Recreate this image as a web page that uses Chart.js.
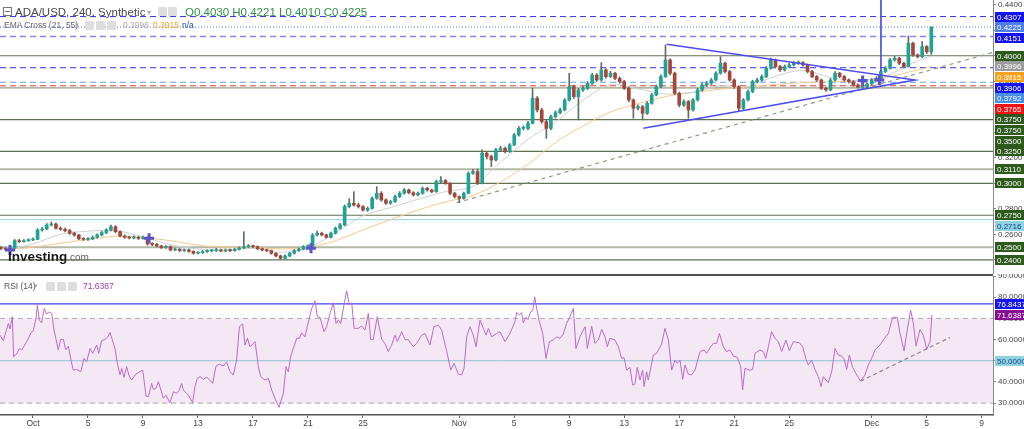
<!DOCTYPE html>
<html>
<head>
<meta charset="utf-8">
<script src="https://cdn.jsdelivr.net/npm/chart.js@4.4.1/dist/chart.umd.min.js"></script>
<style>
  body { margin: 0; background: #fff; width: 1024px; height: 429px; overflow: hidden; position: relative; font-family: "Liberation Sans", Arial, sans-serif; }
  canvas { position: absolute; left: 0; }
  #main { top: 0; }
  #rsi { top: 274px; }
  .sep { position: absolute; left: 0; top: 274px; width: 993px; height: 2px; background: #505050; }
  .t { position: absolute; white-space: nowrap; }
  .ic { position: absolute; width: 9px; height: 9px; background: #dedede; border-radius: 1px; }
  .minus { position: absolute; left: 3px; top: 7px; width: 7px; height: 7px; border: 1px solid #777; }
  .minus:after { content: ""; position: absolute; left: 1px; top: 3px; width: 5px; height: 1px; background: #777; }
</style>
</head>
<body>
<canvas id="main" width="1024" height="274"></canvas>
<canvas id="rsi" width="1024" height="155"></canvas>
<div class="sep"></div>

<span class="minus"></span>
<span class="t" style="left:15px;top:5px;font-size:11.5px;line-height:14px;color:#4a4a4a">ADA/USD, 240, Synthetic</span>
<span class="t" style="left:147px;top:6px;font-size:8px;line-height:14px;color:#aaa">&#9662;</span>
<span class="ic" style="left:158px;top:7px"></span>
<span class="ic" style="left:168px;top:7px"></span>
<span class="t" style="left:185px;top:5px;font-size:11.5px;line-height:14px;color:#2f8f46">O0.4030 H0.4221 L0.4010 C0.4225</span>

<span class="t" style="left:4px;top:19px;font-size:8.5px;line-height:12px;color:#666">EMA Cross (21, 55)</span>
<span class="t" style="left:75px;top:19px;font-size:7px;line-height:12px;color:#aaa">&#9662;</span>
<span class="ic" style="left:85px;top:21px"></span>
<span class="ic" style="left:96px;top:21px"></span>
<span class="ic" style="left:107px;top:21px"></span>
<span class="t" style="left:123px;top:19px;font-size:8.5px;line-height:12px;color:#a8a8a8">0.3996</span>
<span class="t" style="left:153px;top:19px;font-size:8.5px;line-height:12px;color:#f5a623">0.3915</span>
<span class="t" style="left:182px;top:19px;font-size:8.5px;line-height:12px;color:#2a4fb5">n/a</span>

<span class="t" style="left:8px;top:249px;font-size:13.5px;line-height:16px;font-weight:bold;color:#1a1a1a">Investing<span style="font-size:10px;font-weight:normal;color:#666">.com</span></span>

<span class="t" style="left:4px;top:280px;font-size:8.5px;line-height:12px;color:#555">RSI (14)</span>
<span class="t" style="left:34px;top:280px;font-size:7px;line-height:12px;color:#aaa">&#9662;</span>
<span class="ic" style="left:46px;top:282px"></span>
<span class="ic" style="left:57px;top:282px"></span>
<span class="ic" style="left:68px;top:282px"></span>
<span class="t" style="left:83px;top:280px;font-size:8.5px;line-height:12px;color:#a03cb0">71.6387</span>

<script>
// time axis: days since 1 Oct, candles every 8 hours
const X_MIN = -2.4;
const X_MAX = 69.82;
const candleStart = -2.3333;
const candleStep = 1 / 3;
const firstOpen = 0.2495;

const closes = [
  0.2490,0.2483,0.2491,0.2551,0.2543,0.2551,0.2556,0.2561,0.2634,0.2642,
  0.2674,0.2681,0.2648,0.2640,0.2630,0.2609,0.2595,0.2566,0.2561,0.2564,
  0.2577,0.2595,0.2614,0.2634,0.2660,0.2621,0.2587,0.2577,0.2572,0.2577,
  0.2569,0.2574,0.2525,0.2522,0.2509,0.2496,0.2504,0.2478,0.2483,0.2473,
  0.2478,0.2467,0.2452,0.2457,0.2465,0.2470,0.2473,0.2478,0.2470,0.2478,
  0.2473,0.2483,0.2494,0.2504,0.2509,0.2504,0.2488,0.2478,0.2473,0.2452,
  0.2431,0.2413,0.2431,0.2452,0.2473,0.2483,0.2504,0.2509,0.2595,0.2609,
  0.2596,0.2577,0.2609,0.2648,0.2674,0.2818,0.2844,0.2831,0.2818,0.2791,
  0.2804,0.2883,0.2922,0.2870,0.2844,0.2857,0.2896,0.2922,0.2948,0.2927,
  0.2909,0.2922,0.2961,0.2948,0.2935,0.3014,0.3022,0.3001,0.2922,0.2896,
  0.2883,0.2922,0.3079,0.3092,0.3001,0.3236,0.3210,0.3183,0.3262,0.3275,
  0.3249,0.3301,0.3379,0.3431,0.3431,0.3471,0.3667,0.3575,0.3484,0.3431,
  0.3523,0.3554,0.3575,0.3653,0.3758,0.3680,0.3732,0.3745,0.3784,0.3849,
  0.3810,0.3889,0.3836,0.3862,0.3823,0.3797,0.3745,0.3654,0.3588,0.3601,
  0.3549,0.3628,0.3693,0.3758,0.3837,0.3967,0.3863,0.3706,0.3614,0.3641,
  0.3575,0.3654,0.3732,0.3771,0.3784,0.3810,0.3863,0.3941,0.3876,0.3810,
  0.3758,0.3588,0.3654,0.3719,0.3797,0.3810,0.3837,0.3902,0.3967,0.3915,
  0.3889,0.3915,0.3928,0.3941,0.3946,0.3928,0.3876,0.3837,0.3810,0.3745,
  0.3732,0.3810,0.3863,0.3837,0.3810,0.3797,0.3771,0.3753,0.3758,0.3779,
  0.3810,0.3823,0.3876,0.3902,0.3967,0.3980,0.3941,0.3915,0.4098,0.4006,
  0.3993,0.4072,0.4030,0.4225
];
const highs = [
  0.2505,0.2498,0.2500,0.2560,0.2562,0.2560,0.2565,0.2572,0.2645,0.2655,
  0.2685,0.2698,0.2690,0.2660,0.2650,0.2640,0.2618,0.2600,0.2575,0.2575,
  0.2588,0.2605,0.2625,0.2645,0.2672,0.2668,0.2628,0.2595,0.2586,0.2588,
  0.2585,0.2586,0.2580,0.2535,0.2530,0.2515,0.2512,0.2510,0.2492,0.2490,
  0.2486,0.2485,0.2472,0.2465,0.2474,0.2478,0.2482,0.2490,0.2485,0.2486,
  0.2484,0.2492,0.2502,0.2621,0.2520,0.2516,0.2510,0.2494,0.2485,0.2478,
  0.2458,0.2438,0.2440,0.2460,0.2482,0.2492,0.2512,0.2518,0.2606,0.2625,
  0.2618,0.2602,0.2618,0.2658,0.2686,0.2830,0.2880,0.2935,0.2845,0.2825,
  0.2815,0.2895,0.2974,0.2935,0.2878,0.2868,0.2908,0.2935,0.2960,0.2955,
  0.2935,0.2932,0.2972,0.2968,0.2955,0.3025,0.3053,0.3030,0.3006,0.2930,
  0.2902,0.2932,0.3090,0.3110,0.3112,0.3262,0.3245,0.3222,0.3275,0.3290,
  0.3285,0.3312,0.3392,0.3445,0.3450,0.3485,0.3745,0.3680,0.3588,0.3495,
  0.3535,0.3568,0.3590,0.3665,0.3863,0.3770,0.3745,0.3760,0.3798,0.3862,
  0.3860,0.3946,0.3900,0.3878,0.3870,0.3835,0.3808,0.3755,0.3662,0.3615,
  0.3610,0.3640,0.3705,0.3770,0.3850,0.4085,0.3975,0.3872,0.3715,0.3655,
  0.3650,0.3665,0.3745,0.3785,0.3798,0.3822,0.3875,0.3993,0.3950,0.3885,
  0.3820,0.3765,0.3665,0.3730,0.3808,0.3822,0.3850,0.3915,0.3982,0.3975,
  0.3925,0.3928,0.3940,0.3955,0.3960,0.3955,0.3935,0.3885,0.3845,0.3818,
  0.3755,0.3822,0.3875,0.3870,0.3845,0.3818,0.3805,0.3780,0.3768,0.3790,
  0.3822,0.3835,0.3888,0.3915,0.3980,0.3995,0.3988,0.3950,0.4155,0.4108,
  0.4015,0.4111,0.4080,0.4225
];
const lows = [
  0.2480,0.2475,0.2478,0.2488,0.2536,0.2538,0.2545,0.2550,0.2558,0.2625,
  0.2636,0.2665,0.2640,0.2632,0.2620,0.2600,0.2585,0.2558,0.2552,0.2553,
  0.2558,0.2570,0.2588,0.2606,0.2628,0.2612,0.2580,0.2568,0.2564,0.2565,
  0.2560,0.2562,0.2515,0.2512,0.2500,0.2488,0.2490,0.2470,0.2472,0.2465,
  0.2466,0.2460,0.2445,0.2446,0.2450,0.2458,0.2463,0.2466,0.2463,0.2464,
  0.2465,0.2468,0.2477,0.2488,0.2496,0.2495,0.2480,0.2470,0.2465,0.2444,
  0.2424,0.2405,0.2408,0.2425,0.2446,0.2466,0.2478,0.2497,0.2505,0.2588,
  0.2588,0.2570,0.2572,0.2602,0.2640,0.2668,0.2808,0.2822,0.2806,0.2782,
  0.2780,0.2798,0.2875,0.2860,0.2835,0.2836,0.2850,0.2888,0.2915,0.2918,
  0.2900,0.2902,0.2915,0.2938,0.2925,0.2930,0.3005,0.2992,0.2912,0.2885,
  0.2849,0.2876,0.2918,0.3070,0.2990,0.2996,0.3190,0.3131,0.3175,0.3250,
  0.3238,0.3242,0.3295,0.3370,0.3418,0.3420,0.3465,0.3560,0.3470,0.3353,
  0.3420,0.3512,0.3545,0.3568,0.3645,0.3665,0.3497,0.3720,0.3735,0.3775,
  0.3798,0.3802,0.3825,0.3828,0.3812,0.3785,0.3735,0.3640,0.3510,0.3575,
  0.3497,0.3540,0.3620,0.3685,0.3750,0.3830,0.3850,0.3695,0.3600,0.3602,
  0.3510,0.3565,0.3645,0.3722,0.3760,0.3775,0.3802,0.3855,0.3865,0.3800,
  0.3745,0.3562,0.3578,0.3645,0.3710,0.3788,0.3800,0.3828,0.3895,0.3905,
  0.3878,0.3880,0.3905,0.3920,0.3932,0.3918,0.3865,0.3828,0.3798,0.3735,
  0.3720,0.3725,0.3802,0.3828,0.3800,0.3786,0.3762,0.3745,0.3744,0.3750,
  0.3770,0.3802,0.3815,0.3868,0.3895,0.3958,0.3930,0.3905,0.3910,0.3995,
  0.3982,0.3985,0.4018,0.4010
];

// EMA cross indicator (21 / 55), read every two days
const emaDays = [-2,0,2,4,6,8,10,12,14,16,18,20,22,24,26,28,30,32,34,36,38,40,42,44,46,48,50,52,54,56,58,60,62,64,65.38];
const ema21 = [0.2475,0.2525,0.2600,0.2625,0.2630,0.2580,0.2520,0.2485,0.2475,0.2490,0.2460,0.2495,0.2610,0.2745,0.2810,0.2875,0.2935,0.2975,0.3165,0.3345,0.3480,0.3650,0.3775,0.3740,0.3700,0.3715,0.3765,0.3760,0.3840,0.3885,0.3830,0.3805,0.3840,0.3945,0.3996];
const ema55 = [0.2480,0.2500,0.2530,0.2560,0.2585,0.2575,0.2550,0.2515,0.2500,0.2500,0.2485,0.2497,0.2550,0.2635,0.2715,0.2790,0.2855,0.2905,0.3010,0.3150,0.3320,0.3450,0.3560,0.3625,0.3680,0.3712,0.3738,0.3758,0.3775,0.3790,0.3797,0.3806,0.3828,0.3880,0.3915];
const crossDays = [-1.67, 8.44, 20.22, 60.34, 61.55];
const crossPrices = [0.2478, 0.2570, 0.2491, 0.3805, 0.3810];

// horizontal price levels
const levels = [0.4307, 0.4225, 0.4151, 0.4000, 0.3906, 0.3792, 0.3765, 0.3750, 0.3500, 0.3250, 0.3110, 0.3000, 0.2750, 0.2716, 0.2500, 0.2400];

// drawings
const trendDays = [30.81, 69.82];
const trendPrices = [0.2848, 0.4026];
const triDays = [46.09, 64.15, 44.39];
const triPrices = [0.4090, 0.3810, 0.3432];
const vlineDays = [61.67, 61.67];
const vlinePrices = [0.4437, 0.3875];

// right-axis price tags
const mainTags = [0.4307, 0.4225, 0.4151, 0.4000, 0.3996, 0.3915, 0.3906, 0.3792, 0.3765, 0.3750, 0.3750, 0.3500, 0.3250, 0.3110, 0.3000, 0.2750, 0.2716, 0.2500, 0.2400];
const mainTicks = [0.44, 0.42, 0.40, 0.38, 0.36, 0.34, 0.32, 0.30, 0.28, 0.26, 0.24];

// RSI(14): [day, value]
const rsiPoints = [
  [-2.40,62.1],[-2.16,59.5],[-1.79,67.6],[-1.67,65.0],[-1.50,70.8],[-1.41,51.9],[-1.19,53.2],[-0.99,55.8],[-0.82,55.1],[-0.46,59.0],
  [-0.17,62.9],[0.02,64.2],[0.22,70.0],[0.32,76.3],[0.46,69.2],[0.63,67.9],[0.82,74.7],[0.99,72.0],[1.16,73.1],[1.36,72.3],
  [1.53,64.5],[1.84,55.1],[2.01,60.1],[2.21,60.1],[2.38,55.1],[2.57,56.9],[2.76,50.3],[2.93,45.6],[3.18,45.9],[3.47,44.8],
  [3.71,51.1],[3.90,49.5],[4.15,55.8],[4.34,53.5],[4.63,57.4],[4.78,53.5],[4.99,59.5],[5.24,60.1],[5.41,61.0],[5.60,63.4],
  [5.96,55.8],[6.13,48.8],[6.33,43.3],[6.45,46.4],[6.62,42.2],[6.81,47.2],[7.01,42.5],[7.18,40.9],[7.42,43.3],[7.66,44.4],
  [7.98,45.6],[8.22,33.4],[8.39,33.0],[8.63,39.3],[8.75,36.5],[8.95,37.0],[9.12,40.1],[9.48,32.3],[9.67,33.8],[9.96,30.2],
  [10.21,35.4],[10.45,34.6],[10.62,35.9],[10.81,39.3],[10.93,36.2],[11.30,33.8],[11.61,30.2],[11.78,37.8],[11.95,41.7],[12.15,42.5],
  [12.39,41.2],[12.63,42.2],[12.82,41.2],[13.07,39.3],[13.31,47.5],[13.55,48.4],[13.84,47.5],[14.08,49.5],[14.33,44.8],[14.57,43.3],
  [14.81,50.3],[15.01,66.1],[15.25,67.3],[15.42,57.4],[15.59,60.6],[15.78,56.6],[16.15,59.0],[16.39,47.2],[16.56,42.5],[16.87,40.9],
  [17.12,41.7],[17.36,36.2],[17.60,32.3],[17.89,28.0],[18.21,34.6],[18.40,47.2],[18.57,44.8],[18.74,51.9],[18.93,55.8],[19.18,60.6],
  [19.37,60.6],[19.54,63.2],[19.78,61.3],[19.95,66.1],[20.27,74.7],[20.51,78.3],[20.68,70.8],[20.87,70.5],[21.16,63.7],[21.36,66.1],
  [21.60,72.3],[21.84,77.4],[22.04,67.6],[22.21,69.2],[22.38,67.6],[22.57,74.7],[22.81,83.0],[23.01,76.3],[23.18,77.4],[23.35,65.3],
  [23.66,65.3],[23.90,66.4],[24.15,64.5],[24.39,72.3],[24.56,60.1],[24.75,60.1],[25.04,70.8],[25.36,60.1],[25.60,58.2],[25.84,54.3],
  [26.08,57.4],[26.33,62.1],[26.50,59.0],[26.81,63.7],[27.05,60.1],[27.30,59.8],[27.66,56.6],[27.90,58.2],[28.27,62.1],[28.51,62.9],
  [28.87,57.4],[29.16,66.1],[29.48,66.8],[29.72,64.5],[30.08,54.7],[30.38,45.6],[30.62,48.8],[30.93,43.7],[31.18,43.3],[31.35,46.4],
  [31.54,61.3],[31.78,66.1],[32.02,62.1],[32.22,56.6],[32.51,69.2],[32.75,65.3],[32.95,62.1],[33.12,65.3],[33.36,61.3],[33.72,62.9],
  [33.96,63.7],[34.33,59.0],[34.69,62.9],[35.05,68.4],[35.18,72.8],[35.37,71.6],[35.54,72.7],[35.66,67.9],[35.85,70.5],[36.02,69.5],
  [36.19,73.1],[36.34,73.6],[36.49,80.2],[36.63,74.7],[36.83,68.4],[37.07,62.9],[37.31,51.1],[37.55,59.0],[37.84,59.8],[38.09,61.3],
  [38.33,60.6],[38.57,62.6],[38.81,67.6],[39.05,70.8],[39.30,74.7],[39.49,55.8],[39.78,61.3],[40.15,66.1],[40.32,55.8],[40.63,66.4],
  [40.87,58.2],[41.12,59.8],[41.36,64.8],[41.60,61.3],[41.77,56.6],[41.96,60.6],[42.33,59.8],[42.57,56.6],[42.81,51.1],[42.98,51.6],
  [43.18,45.6],[43.42,46.9],[43.61,38.5],[43.78,39.0],[43.95,46.9],[44.15,40.9],[44.34,45.6],[44.44,37.8],[44.63,44.8],[44.75,40.9],
  [45.12,52.7],[45.36,53.5],[45.72,57.9],[45.96,65.3],[46.21,59.8],[46.45,45.6],[46.69,50.3],[46.86,48.8],[47.06,50.3],[47.25,41.2],
  [47.42,48.0],[47.66,43.7],[47.90,43.3],[48.15,45.6],[48.51,54.3],[48.80,55.1],[48.99,53.5],[49.29,56.6],[49.48,58.2],[49.72,58.2],
  [49.92,62.9],[50.21,56.6],[50.45,54.3],[50.69,55.1],[50.93,52.2],[51.23,51.6],[51.47,47.2],[51.61,36.2],[51.78,46.4],[52.10,45.6],
  [52.34,45.9],[52.51,53.5],[52.87,55.1],[53.12,54.3],[53.29,51.1],[53.48,56.6],[53.72,63.7],[53.96,60.6],[54.21,59.0],[54.45,54.3],
  [54.76,59.8],[55.01,54.7],[55.30,59.0],[55.73,58.5],[55.98,56.6],[56.22,50.6],[56.39,48.0],[56.63,50.3],[56.87,45.9],[57.12,42.5],
  [57.31,37.8],[57.48,42.5],[57.84,39.6],[58.09,44.8],[58.33,55.8],[58.57,52.7],[58.81,52.2],[58.98,51.1],[59.18,45.9],[59.37,52.7],
  [59.61,46.9],[59.85,44.0],[60.19,40.4],[60.51,43.3],[60.75,48.0],[60.99,51.1],[61.24,55.1],[61.60,57.4],[61.84,59.8],[62.21,62.9],
  [62.52,70.5],[62.86,70.5],[63.06,62.9],[63.35,54.6],[63.54,62.9],[63.83,73.9],[64.03,67.6],[64.22,56.9],[64.51,64.8],[64.75,62.1],
  [65.00,55.4],[65.24,59.0],[65.38,71.64]
];
const rsiTrendDays = [60.19, 66.69];
const rsiTrendValues = [40.4, 61.0];
const rsiLevels = [76.8437, 70, 50, 30];
const rsiTags = [76.8437, 71.6387, 50.0];
const rsiTicks = [90, 80, 70, 60, 50, 40, 30];

const xTickDays = [0, 4, 8, 12, 16, 20, 24, 31, 35, 39, 43, 47, 51, 55, 61, 65, 69];
const xTickLabels = ['Oct', '5', '9', '13', '17', '21', '25', 'Nov', '5', '9', '13', '17', '21', '25', 'Dec', '5', '9'];

// ---- styles ----
const lineKinds = {
  blueDash: { color: '#2f2ff0', width: 1, dash: [6, 4] },
  dot: { color: '#4f74ea', width: 1, dash: [1, 2] },
  paleDash: { color: '#8585f4', width: 1.5, dash: [6, 4] },
  olive: { color: '#617250', width: 1.2, dash: [] },
  pale: { color: '#b2b8a4', width: 2, dash: [] },
  skyDash: { color: '#6a9ff0', width: 1, dash: [6, 4] },
  redDash: { color: '#e64a4a', width: 1, dash: [6, 4] },
  cyan: { color: '#a3d9e6', width: 1.2, dash: [] }
};
const levelKind = ['blueDash', 'dot', 'paleDash', 'olive', 'blueDash', 'skyDash', 'redDash', 'pale', 'olive', 'olive', 'pale', 'olive', 'olive', 'cyan', 'pale', 'olive'];
const tagKinds = {
  blue: ['#1414f0', '#fff'], price: ['#4d7ee9', '#fff'], olive: ['#2d5a1c', '#fff'],
  grey: ['#9b9b9b', '#fff'], orange: ['#f6a21f', '#fff'], sky: ['#4a8fe6', '#fff'],
  red: ['#f01212', '#fff'], cyan: ['#8fd3e1', '#17408a'], purple: ['#870f8f', '#fff']
};
const mainTagKind = ['blue', 'price', 'blue', 'olive', 'grey', 'orange', 'blue', 'sky', 'red', 'olive', 'olive', 'olive', 'olive', 'olive', 'olive', 'olive', 'cyan', 'olive', 'olive'];
const rsiTagKind = ['blue', 'purple', 'cyan'];
const UP = '#1ea396', DOWN = '#a8453b', WICK = '#5f6e5f';

Chart.defaults.font.family = '"Liberation Sans", Arial, sans-serif';
Chart.defaults.animation = false;

function pts(xs, ys) { return xs.map((x, i) => ({ x: x, y: ys[i] })); }
function flat(v) { return [{ x: X_MIN, y: v }, { x: X_MAX, y: v }]; }

function tagPlugin(values, kinds) {
  return {
    id: 'tags',
    afterDraw(chart) {
      const ys = chart.scales.y, ctx = chart.ctx;
      let prev = -1e9;
      ctx.save();
      ctx.font = '8px "Liberation Sans", Arial, sans-serif';
      ctx.textBaseline = 'middle';
      values.forEach((v, i) => {
        const y = Math.max(ys.getPixelForValue(v), prev + 10.6);
        prev = y;
        const k = tagKinds[kinds[i]];
        ctx.fillStyle = k[0];
        ctx.fillRect(ys.left + 2, Math.round(y - 5), chart.width - ys.left - 2, 10);
        ctx.fillStyle = k[1];
        ctx.fillText(v.toFixed(4), ys.left + 4, Math.round(y) + 0.5);
      });
      ctx.restore();
    }
  };
}

const opens = closes.map((c, i) => i === 0 ? firstOpen : closes[i - 1]);
const candleDays = closes.map((c, i) => candleStart + i * candleStep);
const bodyColors = closes.map((c, i) => c >= opens[i] ? UP : DOWN);

const mainSets = levels.map((v, i) => {
  const k = lineKinds[levelKind[i]];
  return { type: 'line', data: flat(v), borderColor: k.color, borderWidth: k.width, borderDash: k.dash, pointRadius: 0, order: 10 };
});
mainSets.push(
  { type: 'line', data: pts(trendDays, trendPrices), borderColor: '#8d9a80', borderWidth: 1.2, borderDash: [4, 4], pointRadius: 0, order: 6 },
  { type: 'line', data: pts(emaDays, ema21), borderColor: '#cfcfcf', borderWidth: 1, pointRadius: 0, tension: 0.3, order: 5 },
  { type: 'line', data: pts(emaDays, ema55), borderColor: '#f9c88d', borderWidth: 1, pointRadius: 0, tension: 0.3, order: 5 },
  { type: 'bar', data: candleDays.map((d, i) => ({ x: d, y: [lows[i], highs[i]] })), backgroundColor: WICK, grouped: false, barThickness: 1, maxBarThickness: 1, order: 3 },
  { type: 'bar', data: candleDays.map((d, i) => ({ x: d, y: [opens[i], closes[i]] })), backgroundColor: bodyColors, grouped: false, barThickness: 3, maxBarThickness: 3, minBarLength: 1, order: 2 },
  { type: 'line', data: pts(triDays, triPrices), borderColor: '#4b4bf0', borderWidth: 1.5, pointRadius: 0, order: 1 },
  { type: 'line', data: pts(vlineDays, vlinePrices), borderColor: '#5353ea', borderWidth: 1, pointRadius: 0, order: 1 },
  { type: 'line', data: pts(crossDays, crossPrices), showLine: false, pointStyle: 'cross', pointRadius: 5, pointBorderWidth: 3, pointBorderColor: '#5d52c9', order: 0 }
);

new Chart(document.getElementById('main'), {
  type: 'line',
  data: { datasets: mainSets },
  options: {
    responsive: false,
    layout: { padding: 0, autoPadding: false },
    plugins: { legend: { display: false }, tooltip: { enabled: false } },
    scales: {
      x: { type: 'linear', display: false, min: X_MIN, max: X_MAX, offset: false },
      y: {
        position: 'right', min: 0.22895, max: 0.44368,
        afterBuildTicks: s => { s.ticks = mainTicks.map(v => ({ value: v })); },
        afterFit: s => { s.width = 31; s.paddingTop = 0; s.paddingBottom = 0; },
        ticks: { callback: v => v.toFixed(4), font: { size: 8 }, color: '#444', padding: 2, autoSkip: false },
        grid: { drawOnChartArea: false, tickLength: 3, color: '#888' },
        border: { color: '#888' }
      }
    }
  },
  plugins: [tagPlugin(mainTags, mainTagKind)]
});

const rsiSets = [
  { type: 'line', data: flat(rsiLevels[1]), borderColor: '#aaa', borderWidth: 1, borderDash: [5, 4], pointRadius: 0, fill: '+1', backgroundColor: 'rgba(160, 80, 170, 0.13)', order: 9 },
  { type: 'line', data: flat(rsiLevels[3]), borderColor: '#aaa', borderWidth: 1, borderDash: [5, 4], pointRadius: 0, order: 9 },
  { type: 'line', data: flat(rsiLevels[2]), borderColor: '#8fc3d4', borderWidth: 1, pointRadius: 0, order: 8 },
  { type: 'line', data: flat(rsiLevels[0]), borderColor: '#4141f5', borderWidth: 1.3, pointRadius: 0, order: 8 },
  { type: 'line', data: pts(rsiTrendDays, rsiTrendValues), borderColor: '#8a8a8a', borderWidth: 1.2, borderDash: [4, 3], pointRadius: 0, order: 2 },
  { type: 'line', data: rsiPoints.map(p => ({ x: p[0], y: p[1] })), borderColor: '#bb6bc9', borderWidth: 1, pointRadius: 0, order: 1 }
];

new Chart(document.getElementById('rsi'), {
  type: 'line',
  data: { datasets: rsiSets },
  options: {
    responsive: false,
    layout: { padding: { top: 2, left: 0, right: 0, bottom: 0 }, autoPadding: false },
    plugins: { legend: { display: false }, tooltip: { enabled: false } },
    scales: {
      x: {
        type: 'linear', min: X_MIN, max: X_MAX, offset: false,
        afterBuildTicks: s => { s.ticks = xTickDays.map(v => ({ value: v })); },
        afterFit: s => { s.height = 14; s.paddingLeft = 0; s.paddingRight = 0; },
        ticks: { callback: (v, i) => xTickLabels[i], autoSkip: false, maxRotation: 0, font: { size: 8.5 }, color: '#444', padding: 1 },
        grid: { drawOnChartArea: false, tickLength: 3, color: '#666' },
        border: { color: '#555', width: 1.5 }
      },
      y: {
        position: 'right', min: 24.4, max: 90,
        afterBuildTicks: s => { s.ticks = rsiTicks.map(v => ({ value: v })); },
        afterFit: s => { s.width = 31; s.paddingTop = 0; s.paddingBottom = 0; },
        ticks: { callback: v => v.toFixed(4), font: { size: 8 }, color: '#444', padding: 2, autoSkip: false },
        grid: { drawOnChartArea: false, tickLength: 3, color: '#888' },
        border: { color: '#888' }
      }
    }
  },
  plugins: [tagPlugin(rsiTags, rsiTagKind)]
});
</script>
</body>
</html>
